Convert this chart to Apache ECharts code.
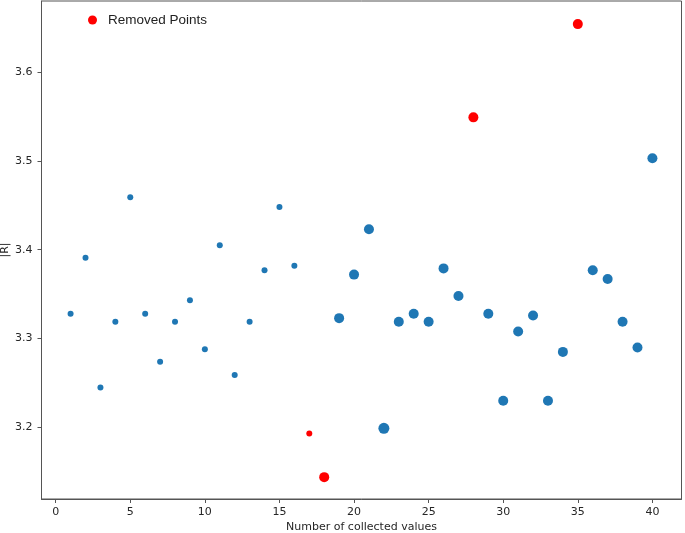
<!DOCTYPE html>
<html>
<head>
<meta charset="utf-8">
<script src="https://cdn.jsdelivr.net/npm/echarts@6/dist/echarts.min.js"></script>
<style>
  html, body { margin: 0; padding: 0; background: #fff; }
  #main { width: 685px; height: 533px; }
</style>
</head>
<body>
<div id="main"></div>
<script>
// data
var counts = [1, 2, 3, 4, 5, 6, 7, 8, 9, 10,
              11, 12, 13, 14, 15, 16, 17, 18, 19, 20,
              21, 22, 23, 24, 25, 26, 27, 28, 29, 30,
              31, 32, 33, 34, 35, 36, 37, 38, 39, 40];
var iri = [3.328, 3.391, 3.245, 3.319, 3.459, 3.328, 3.274, 3.319, 3.343, 3.288,
           3.405, 3.259, 3.319, 3.377, 3.448, 3.382, 3.193, 3.144, 3.323, 3.372,
           3.423, 3.199, 3.319, 3.328, 3.319, 3.379, 3.348, 3.549, 3.328, 3.230,
           3.308, 3.326, 3.230, 3.285, 3.654, 3.377, 3.367, 3.319, 3.290, 3.503];
var removed = [17, 18, 28, 35];
var xTicks = [0, 5, 10, 15, 20, 25, 30, 35, 40];
var yTicks = [3.2, 3.3, 3.4, 3.5, 3.6];

var kept = [], dropped = [];
counts.forEach(function (c, i) {
    if (removed.indexOf(c) >= 0) dropped.push([c, iri[i]]);
    else kept.push([c, iri[i]]);
});

function markerSize(d) {
    if (d[0] <= 17) return 6;
    if (d[0] === 22) return 11;
    return 10;
}

var dom = document.getElementById('main');
var myChart = echarts.init(dom);
var frame = '#555';
var txt = '#262626';

var option = {
    animation: false,
    grid: {
        left: 41.5, right: 3.5, top: 1, bottom: 34,
        outerBoundsMode: 'none',
        containLabel: false,
        show: true, borderColor: frame, borderWidth: 1
    },
    legend: {
        left: 88, top: 13, padding: 0,
        itemWidth: 9, itemHeight: 9,
        data: [{ name: 'Removed Points', icon: 'circle' }],
        textStyle: {
            fontFamily: 'Liberation Sans', fontSize: 13.5, color: '#222',
            padding: [0, 0, 0, 6]
        }
    },
    xAxis: {
        type: 'value',
        min: -0.95, max: 41.95,
        name: 'Number of collected values',
        nameLocation: 'middle', nameGap: 23,
        nameMoveOverlap: false,
        nameTextStyle: { fontFamily: 'DejaVu Sans', fontSize: 11, color: txt },
        splitLine: { show: false },
        axisLine: { onZero: false, lineStyle: { color: frame } },
        axisTick: { customValues: xTicks, length: 4, lineStyle: { color: frame } },
        axisLabel: {
            customValues: xTicks, margin: 8,
            fontFamily: 'DejaVu Sans', fontSize: 11, color: txt
        }
    },
    yAxis: {
        type: 'value',
        min: 3.1194, max: 3.680,
        name: '|R|',
        nameLocation: 'middle', nameGap: 31,
        nameMoveOverlap: false,
        nameTextStyle: { fontFamily: 'DejaVu Sans', fontSize: 11, color: txt },
        splitLine: { show: false },
        axisLine: { onZero: false, lineStyle: { color: frame } },
        axisTick: { customValues: yTicks, length: 4, lineStyle: { color: frame } },
        axisLabel: {
            customValues: yTicks, margin: 9,
            fontFamily: 'DejaVu Sans', fontSize: 11, color: txt,
            formatter: function (v) { return v.toFixed(1); }
        }
    },
    series: [
        {
            name: 'Kept Points',
            type: 'scatter',
            data: kept,
            symbolSize: markerSize,
            itemStyle: { color: '#1f77b4', opacity: 1 }
        },
        {
            name: 'Removed Points',
            type: 'scatter',
            data: dropped,
            symbolSize: markerSize,
            itemStyle: { color: '#ff0000', opacity: 1 }
        }
    ]
};
myChart.setOption(option);
</script>
</body>
</html>
